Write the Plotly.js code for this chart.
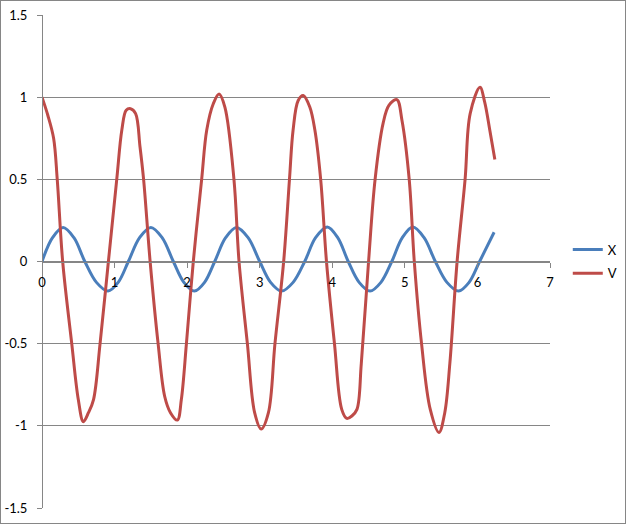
<!DOCTYPE html>
<html>
<head>
<meta charset="utf-8">
<script src="https://cdn.plot.ly/plotly-3.0.1.min.js"></script>
<style>
  html, body { margin: 0; padding: 0; background: #fff; }
  #wrap { position: relative; width: 626px; height: 524px; }
  #chart { width: 626px; height: 524px; }
  #frame { position: absolute; left: 0; top: 0; width: 624px; height: 522px; border: 1px solid #868686; pointer-events: none; }
</style>
</head>
<body>
<div id="wrap"><div id="chart"></div><div id="frame"></div></div>
<script>
// Series X (blue): time and value
const tX = [0, 0.145, 0.29, 0.44, 0.59, 0.75, 0.91, 1.05, 1.19, 1.345, 1.50, 1.655, 1.81, 1.955, 2.10, 2.24, 2.38, 2.53, 2.68, 2.84, 3.0, 3.15, 3.30, 3.46, 3.62, 3.77, 3.93, 4.075, 4.22, 4.37, 4.52, 4.67, 4.82, 4.965, 5.11, 5.265, 5.42, 5.58, 5.74, 5.885, 6.03, 6.23];
const valX = [0, 0.145, 0.207, 0.145, 0, -0.127, -0.18, -0.127, 0, 0.145, 0.207, 0.145, 0, -0.127, -0.18, -0.127, 0, 0.145, 0.207, 0.145, 0, -0.127, -0.18, -0.127, 0, 0.145, 0.21, 0.145, 0, -0.127, -0.18, -0.127, 0, 0.145, 0.21, 0.145, 0, -0.127, -0.18, -0.127, 0, 0.178];

// Series V (red)
const tV = [0, 0.08, 0.16, 0.21, 0.285, 0.41, 0.50, 0.57, 0.64, 0.71, 0.80, 0.915, 1.03, 1.10, 1.16, 1.22, 1.29, 1.35, 1.40, 1.49, 1.60, 1.69, 1.77, 1.865, 1.92, 1.99, 2.085, 2.20, 2.27, 2.36, 2.44, 2.52, 2.645, 2.715, 2.83, 2.93, 3.02, 3.12, 3.21, 3.33, 3.41, 3.46, 3.53, 3.60, 3.69, 3.76, 3.84, 3.92, 4.03, 4.13, 4.20, 4.27, 4.34, 4.40, 4.50, 4.59, 4.70, 4.78, 4.89, 4.96, 5.06, 5.13, 5.23, 5.35, 5.47, 5.55, 5.62, 5.72, 5.83, 5.90, 6.035, 6.10, 6.17, 6.24];
const valV = [1.0, 0.89, 0.75, 0.5, 0.0, -0.5, -0.84, -0.975, -0.92, -0.84, -0.5, 0.0, 0.5, 0.80, 0.92, 0.93, 0.90, 0.70, 0.5, 0.0, -0.5, -0.82, -0.92, -0.965, -0.84, -0.5, 0.0, 0.5, 0.80, 0.96, 1.02, 0.94, 0.5, 0.0, -0.5, -0.92, -1.02, -0.92, -0.5, 0.0, 0.5, 0.80, 0.98, 1.01, 0.94, 0.80, 0.5, 0.0, -0.5, -0.90, -0.955, -0.94, -0.90, -0.62, 0.0, 0.5, 0.84, 0.95, 0.985, 0.86, 0.5, 0.0, -0.5, -0.90, -1.04, -0.92, -0.62, 0.0, 0.5, 0.90, 1.06, 0.97, 0.80, 0.62];

const seriesNames = ["X", "V"];
const yTickVals = [-1.5, -1, -0.5, 0, 0.5, 1, 1.5];
const yTickText = ["-1.5", "-1", "-0.5", "0", "0.5", "1", "1.5"];
const xTickVals = [0, 1, 2, 3, 4, 5, 6, 7];
const xTickText = ["0", "1", "2", "3", "4", "5", "6", "7"];

const gridCol = "#868686";
const font = { family: "Lato, 'Open Sans', sans-serif", size: 13, color: "#000" };

const traces = [
  { x: tX, y: valX, name: seriesNames[0], type: "scatter", mode: "lines",
    line: { color: "#4A7EBB", width: 3, shape: "spline", smoothing: 1 }, legendgroup: "a" },
  { x: tV, y: valV, name: seriesNames[1], type: "scatter", mode: "lines",
    line: { color: "#BE4B48", width: 3, shape: "spline", smoothing: 1 }, legendgroup: "b" }
];

const layout = {
  width: 626, height: 524,
  margin: { l: 42, r: 76, t: 15, b: 16, pad: 0, autoexpand: false },
  paper_bgcolor: "#fff", plot_bgcolor: "#fff",
  font: font,
  showlegend: true,
  legend: { x: 1.035, xanchor: "left", y: 0.5, yanchor: "middle", font: font,
            traceorder: "grouped", tracegroupgap: 4, bgcolor: "rgba(0,0,0,0)" },
  hovermode: false,
  xaxis: {
    range: [0, 7], tickvals: xTickVals, ticktext: xTickText,
    anchor: "free", position: 0.5, automargin: false,
    showgrid: false, zeroline: false,
    showline: true, linecolor: gridCol, linewidth: 1,
    ticks: "outside", ticklen: 5, tickcolor: gridCol, tickwidth: 1,
    ticklabelstandoff: 4,
    tickfont: font
  },
  yaxis: {
    range: [-1.5, 1.5], tickvals: yTickVals, ticktext: yTickText,
    anchor: "free", position: 0, automargin: false,
    showgrid: true, gridcolor: gridCol, gridwidth: 1, zeroline: false,
    showline: true, linecolor: gridCol, linewidth: 1,
    ticks: "outside", ticklen: 5, tickcolor: gridCol, tickwidth: 1,
    ticklabelstandoff: 7,
    tickfont: font
  }
};

Plotly.newPlot("chart", traces, layout, { staticPlot: true, displayModeBar: false });
</script>
</body>
</html>
